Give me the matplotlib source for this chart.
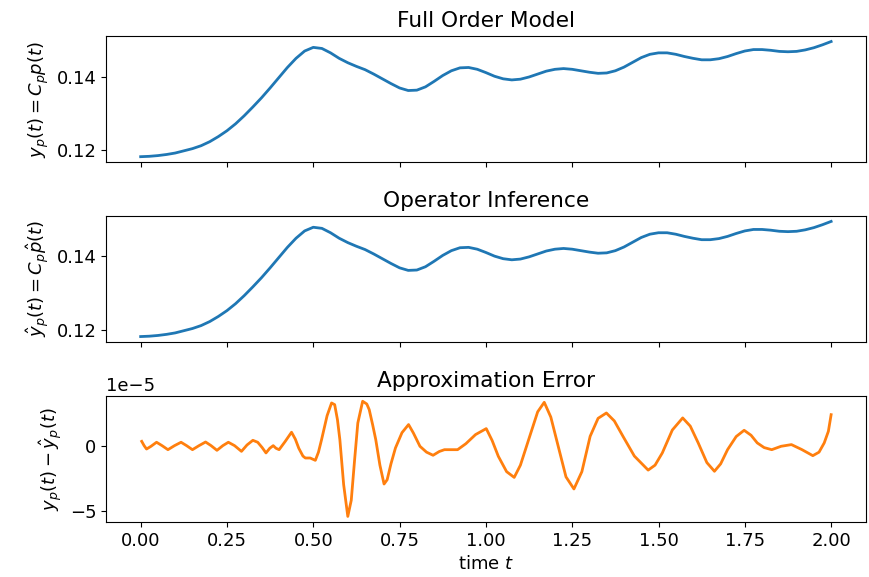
import numpy as np
import matplotlib
matplotlib.use('Agg')
import matplotlib.pyplot as plt

# output of full order model
t_out = np.arange(81) * 0.025
y_fom = [0.1181, 0.1182, 0.1184, 0.1187, 0.1191, 0.1197, 0.1203, 0.1211, 0.1222, 0.1236,
         0.1252, 0.1271, 0.1293, 0.1317, 0.1342, 0.1369, 0.1397, 0.1425, 0.1450, 0.1470,
         0.1480, 0.1477, 0.1465, 0.1450, 0.1438, 0.1428, 0.1419, 0.1407, 0.1394, 0.1381,
         0.1369, 0.1362, 0.1363, 0.1372, 0.1387, 0.1403, 0.1416, 0.1424, 0.1425, 0.1420,
         0.1411, 0.1401, 0.1394, 0.1391, 0.1393, 0.1399, 0.1407, 0.1415, 0.1420, 0.1422,
         0.1420, 0.1416, 0.1412, 0.1409, 0.1410, 0.1416, 0.1426, 0.1439, 0.1452, 0.1461,
         0.1465, 0.1465, 0.1461, 0.1455, 0.1450, 0.1446, 0.1446, 0.1449, 0.1455, 0.1463,
         0.1470, 0.1474, 0.1474, 0.1472, 0.1469, 0.1468, 0.1469, 0.1473, 0.1479, 0.1487,
         0.1496]
# reduced model output (differs by ~1e-5, invisible at this scale)
y_rom = list(y_fom)

# approximation error (units of 1e-5)
t_err = [0.003, 0.010, 0.017, 0.030, 0.046, 0.062, 0.079, 0.098, 0.117, 0.133,
         0.150, 0.169, 0.188, 0.204, 0.221, 0.238, 0.254, 0.272, 0.292, 0.308,
         0.325, 0.339, 0.352, 0.363, 0.374, 0.384, 0.392, 0.401, 0.418, 0.437,
         0.448, 0.458, 0.470, 0.477, 0.491, 0.506, 0.515, 0.524, 0.540, 0.553,
         0.562, 0.570, 0.577, 0.588, 0.600, 0.610, 0.620, 0.629, 0.643, 0.655,
         0.662, 0.672, 0.681, 0.693, 0.705, 0.714, 0.725, 0.738, 0.757, 0.776,
         0.790, 0.809, 0.828, 0.847, 0.865, 0.880, 0.918, 0.942, 0.970, 1.001,
         1.018, 1.036, 1.060, 1.082, 1.100, 1.127, 1.150, 1.169, 1.188, 1.207,
         1.232, 1.255, 1.278, 1.302, 1.325, 1.349, 1.372, 1.397, 1.430, 1.470,
         1.490, 1.511, 1.540, 1.570, 1.592, 1.615, 1.640, 1.662, 1.680, 1.700,
         1.725, 1.748, 1.768, 1.786, 1.806, 1.828, 1.855, 1.885, 1.915, 1.947,
         1.965, 1.980, 1.992, 2.000]
err = [0.33, 0.0, -0.26, -0.05, 0.26, 0.0, -0.31, 0.0, 0.26, 0.0,
       -0.31, 0.0, 0.28, 0.0, -0.36, 0.0, 0.26, 0.0, -0.44, 0.05,
       0.41, 0.26, -0.15, -0.56, -0.2, 0.0, -0.2, -0.31, 0.3, 1.03,
       0.5, -0.2, -0.8, -0.95, -0.95, -1.13, -0.5, 0.46, 2.3, 3.28,
       3.15, 2.0, 0.46, -3.0, -5.44, -4.2, -1.0, 1.74, 3.41, 3.2,
       2.77, 1.6, 0.46, -1.5, -2.95, -2.62, -1.4, -0.18, 1.0, 1.62,
       0.97, -0.05, -0.5, -0.74, -0.45, -0.31, -0.31, 0.15, 0.85, 1.31,
       0.4, -0.82, -2.0, -2.44, -1.5, 0.72, 2.6, 3.33, 2.2, 0.21,
       -2.4, -3.33, -2.0, 0.72, 2.1, 2.51, 1.9, 0.72, -0.8, -1.88,
       -1.5, -0.56, 1.2, 2.13, 1.5, 0.21, -1.3, -1.97, -1.4, -0.31,
       0.7, 1.18, 0.8, 0.21, -0.15, -0.31, -0.05, 0.08, -0.3, -0.77,
       -0.5, 0.21, 1.1, 2.38]
err = np.array(err) * 1e-5

plt.rcParams['font.size'] = 13

fig, axes = plt.subplots(3, 1, sharex=True, figsize=(8.7, 5.77), dpi=100)
fig.subplots_adjust(left=0.122, right=0.995, bottom=0.095, top=0.938, hspace=0.42)

axes[0].plot(t_out, y_fom, color='C0', lw=2)
axes[0].set_title('Full Order Model')
axes[0].set_ylabel(r'$y_p(t) = C_p p(t)$')

axes[1].plot(t_out, y_rom, color='C0', lw=2)
axes[1].set_title('Operator Inference')
axes[1].set_ylabel(r'$\hat{y}_p(t) = C_p\hat{p}(t)$')

axes[2].plot(t_err, err, color='C1', lw=2)
axes[2].set_title('Approximation Error')
axes[2].set_ylabel(r'$y_p(t) - \hat{y}_p(t)$')
axes[2].set_xlabel(r'time $t$')

plt.savefig('out.png', dpi=100)
